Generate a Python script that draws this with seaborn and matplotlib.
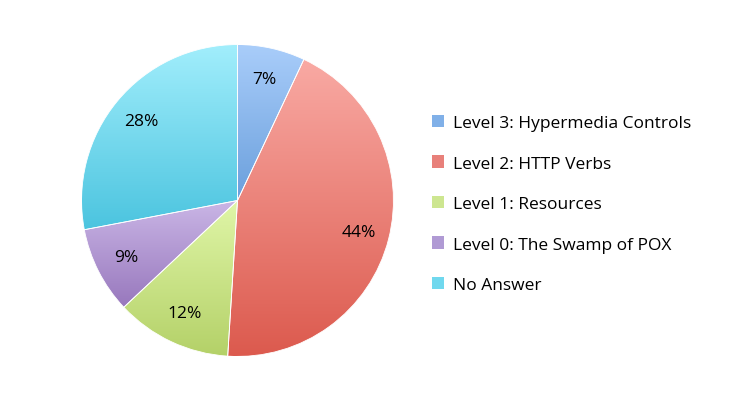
import matplotlib
matplotlib.use('Agg')
import matplotlib.pyplot as plt
import numpy as np
import seaborn as sns
from matplotlib.colors import LinearSegmentedColormap
from matplotlib.patches import Patch

sns.set_style('white')
plt.rcParams['font.family'] = ['Open Sans', 'DejaVu Sans']
plt.rcParams['text.color'] = 'black'

labels = ['Level 3: Hypermedia Controls', 'Level 2: HTTP Verbs', 'Level 1: Resources',
          'Level 0: The Swamp of POX', 'No Answer']
shares = [7, 44, 12, 9, 28]
top_colors = ['#a9cdfa', '#f9aaa4', '#e0f6a8', '#cab6e6', '#a2eefc']
bottom_colors = ['#6a9fdc', '#dc5a4e', '#b4d168', '#9878bd', '#4bc4df']
legend_colors = ['#80b0e8', '#e8807a', '#cde690', '#b09ad4', '#70d8ee']

fig = plt.figure(figsize=(7.38, 4.06), dpi=100)
ax = fig.add_axes([80 / 738, 47 / 406, 315 / 738, 315 / 406])

wedges, texts, autotexts = ax.pie(shares, startangle=90, counterclock=False,
                                  autopct='%1.0f%%', pctdistance=0.8,
                                  wedgeprops=dict(edgecolor='white', linewidth=0.6),
                                  textprops=dict(fontsize=12.5, color='black'))

# vertical gradient inside each slice
grad = np.linspace(0, 1, 256).reshape(-1, 1)
for w, c0, c1 in zip(wedges, top_colors, bottom_colors):
    bb = w.get_path().get_extents()
    cmap = LinearSegmentedColormap.from_list('g', [c0, c1])
    im = ax.imshow(grad, cmap=cmap, aspect='auto', origin='upper',
                   extent=[bb.x0, bb.x1, bb.y0, bb.y1], zorder=w.get_zorder())
    im.set_clip_path(w)
    w.set_facecolor('none')
    w.set_zorder(im.get_zorder() + 0.1)
for t in autotexts:
    t.set_zorder(10)
ax.set_xlim(-1.01, 1.01)
ax.set_ylim(-1.01, 1.01)
ax.set_aspect('equal')
ax.axis('off')

handles = [Patch(facecolor=c, edgecolor='none') for c in legend_colors]
fig.legend(handles, labels, loc='center left', bbox_to_anchor=(416 / 738, 1 - 205 / 406),
           frameon=False, fontsize=12.5, handlelength=0.7, handleheight=0.7,
           handletextpad=0.55, labelspacing=1.4, labelcolor='black')

fig.savefig('out.png', dpi=100)
